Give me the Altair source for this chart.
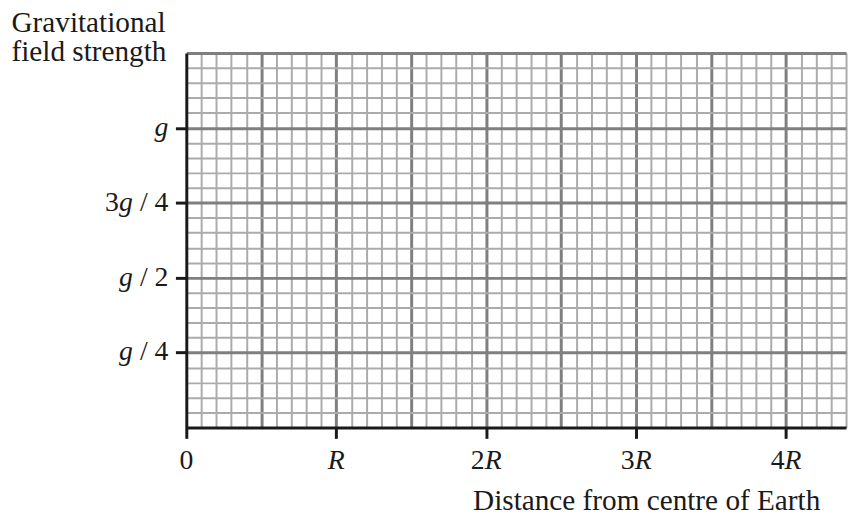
import altair as alt
import pandas as pd

# ---- data ----
x_ticks = [0, 1, 2, 3, 4]
x_num = ["0", "", "2", "3", "4"]
x_sym = ["", "R", "R", "R", "R"]

y_ticks = [0.25, 0.5, 0.75, 1.0]
y_pre = ["", "", "3", ""]
y_sym = ["g", "g", "g", "g"]
y_suf = [" / 4", " / 2", " / 4", ""]

x_grid = [round(i * 0.1, 1) for i in range(45)]   # 0 .. 4.4 R, minor step 0.1 R
y_grid = [round(i * 0.05, 2) for i in range(26)]  # 0 .. 1.25 g, minor step 0.05 g

x_title = "Distance from centre of Earth"
y_title = ["Gravitational", "field strength"]

# ---- styling ----
W, H = 666, 378
FONT = "Liberation Serif"
FS = 28
TFS = 29.5
TXT = "#1a1a1a"
MINOR = "#ababab"
MAJOR = "#7f7f7f"

xdf = pd.DataFrame({"x": x_ticks, "num": x_num, "sym": x_sym})
ydf = pd.DataFrame({"y": y_ticks, "pre": y_pre, "sym": y_sym, "suf": y_suf})

x_major = "abs(datum.value*2 - round(datum.value*2)) < 0.001"
y_major = "abs(datum.value*4 - round(datum.value*4)) < 0.001"

xaxis = alt.Axis(
    values=x_grid, labels=False, grid=True,
    gridColor={"condition": {"test": x_major, "value": MAJOR}, "value": MINOR},
    gridWidth={"condition": {"test": x_major, "value": 3}, "value": 2},
    gridOpacity={"condition": {"test": "datum.value < 0.001", "value": 0}, "value": 1},
    tickSize=11, tickWidth=3, tickColor=TXT,
    tickOpacity={"condition": {"test": "abs(datum.value - round(datum.value)) < 0.001", "value": 1}, "value": 0},
    domainColor=TXT, domainWidth=3,
    title=x_title, titleFont=FONT, titleFontSize=TFS, titleFontWeight="normal",
    titleColor=TXT, titleX=289, titleY=83, titleAlign="left", titleBaseline="alphabetic",
)
yaxis = alt.Axis(
    values=y_grid, labels=False, grid=True,
    gridColor={"condition": {"test": y_major, "value": MAJOR}, "value": MINOR},
    gridWidth={"condition": {"test": y_major, "value": 3}, "value": 2},
    gridOpacity={"condition": {"test": "datum.value < 0.001", "value": 0}, "value": 1},
    tickSize=11, tickWidth=3, tickColor=TXT,
    tickOpacity={"condition": {"test": y_major + " && datum.value > 0.01 && datum.value < 1.1", "value": 1}, "value": 0},
    domainColor=TXT, domainWidth=3,
    title=y_title, titleFont=FONT, titleFontSize=TFS, titleFontWeight="normal",
    titleColor=TXT, titleAngle=0, titleX=-177, titleY=-22, titleAlign="left",
    titleBaseline="alphabetic", titleLineHeight=30,
)

X = alt.X("x:Q", scale=alt.Scale(domain=[0, 4.4], nice=False, zero=False), axis=xaxis)
Y = alt.Y("y:Q", scale=alt.Scale(domain=[0, 1.25], nice=False, zero=False), axis=yaxis)

def txt(**kw):
    base = dict(font=FONT, fontSize=FS, color=TXT)
    base.update(kw)
    return base

LDY = 42
# x tick labels
xb = alt.Chart(xdf)
x0 = xb.transform_filter("datum.sym == ''").mark_text(**txt(align="center", baseline="alphabetic", dy=LDY)).encode(
    x=X, y=alt.value(H), text="num:N")
x1 = xb.transform_filter("datum.num == ''").mark_text(**txt(align="center", baseline="alphabetic", dy=LDY, fontStyle="italic")).encode(
    x=X, y=alt.value(H), text="sym:N")
x2n = xb.transform_filter("datum.num != '' && datum.sym != ''").mark_text(**txt(align="right", baseline="alphabetic", dy=LDY, dx=-1.5)).encode(
    x=X, y=alt.value(H), text="num:N")
x2s = xb.transform_filter("datum.num != '' && datum.sym != ''").mark_text(**txt(align="left", baseline="alphabetic", dy=LDY, dx=-1.5, fontStyle="italic")).encode(
    x=X, y=alt.value(H), text="sym:N")

# y tick labels
yb = alt.Chart(ydf)
ysuf = yb.transform_filter("datum.suf != ''").mark_text(**txt(align="right", baseline="middle", dx=-18)).encode(
    y=Y, x=alt.value(0), text="suf:N")
ysym1 = yb.transform_filter("datum.suf != ''").mark_text(**txt(align="right", baseline="middle", dx=-54, fontStyle="italic")).encode(
    y=Y, x=alt.value(0), text="sym:N")
ysym2 = yb.transform_filter("datum.suf == ''").mark_text(**txt(align="right", baseline="middle", dx=-18, fontStyle="italic")).encode(
    y=Y, x=alt.value(0), text="sym:N")
ypre = yb.transform_filter("datum.pre != ''").mark_text(**txt(align="right", baseline="middle", dx=-68)).encode(
    y=Y, x=alt.value(0), text="pre:N")

chart = alt.layer(x0, x1, x2n, x2s, ysuf, ysym1, ysym2, ypre).properties(
    width=W, height=H,
    autosize=alt.AutoSizeParams(type="none"),
    padding={"left": 180, "top": 43, "right": 4, "bottom": 92},
    background="white",
).configure_view(strokeWidth=0)

chart.save("out.html", embed_options={"renderer": "svg", "actions": False})
